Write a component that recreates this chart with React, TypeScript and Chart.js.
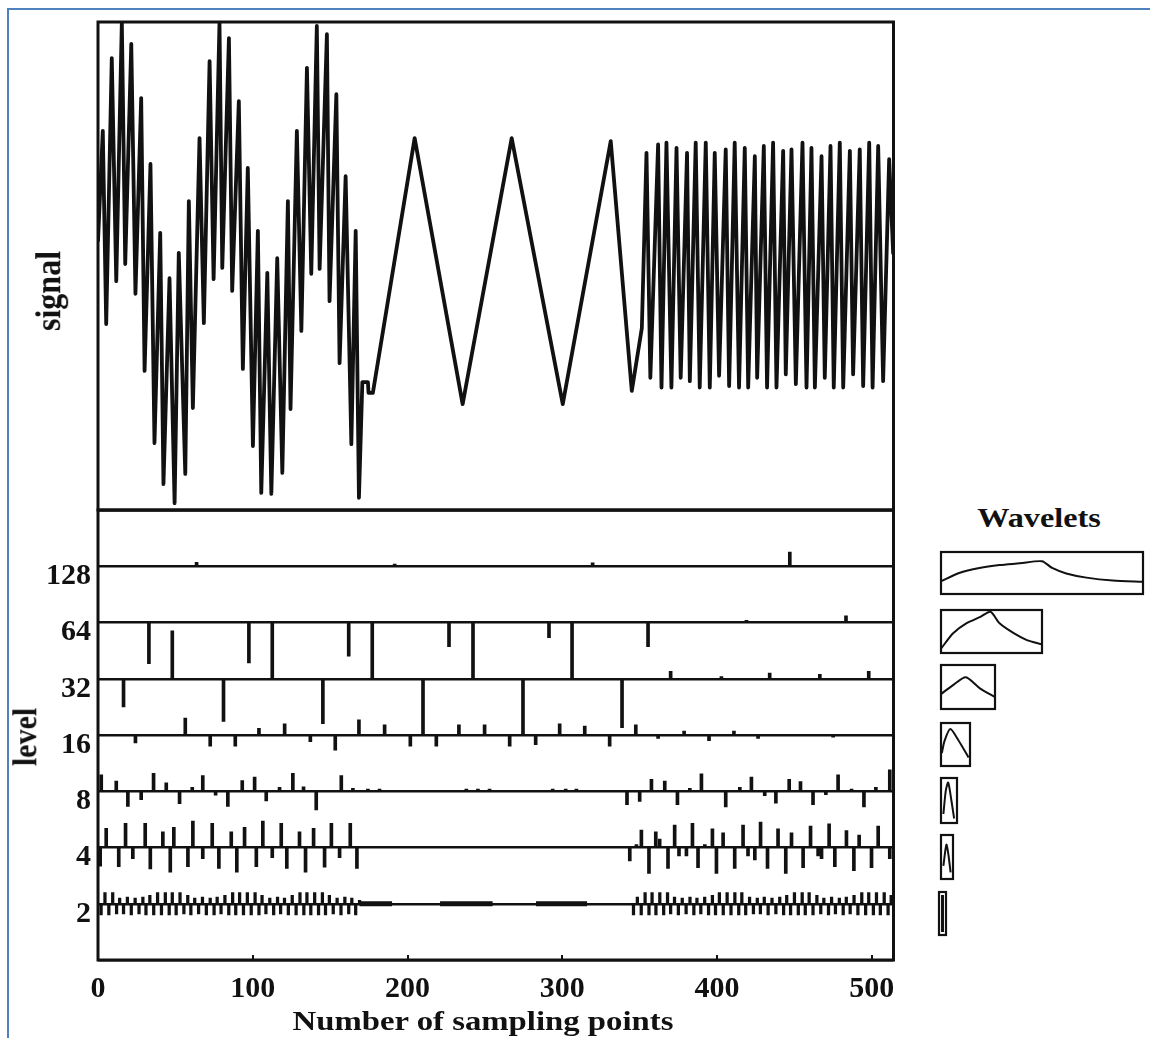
import React, { useEffect, useRef } from 'react';
import { Chart, registerables } from 'chart.js';

Chart.register(...registerables);

const FONT = "'Liberation Serif', 'Times New Roman', 'DejaVu Serif', serif";
const INK = '#111111';

// ---------- signal (sample index, amplitude 0..100) ----------
const signalX = [0, 3.1, 5.3, 8.9, 11.8, 15.4, 17.6, 21.5, 24.2, 27.9, 30.1, 33.9, 36.5, 40.2, 42.3, 46.2, 49.5, 52.2, 56.4, 58.7, 61.3, 65.6, 68.4, 72.1, 74.7, 78.5, 80.3, 84.6, 86.7, 91.0, 93.6, 96.8, 100.1, 103.3, 105.5, 109.4, 112.0, 115.8, 119.1, 122.7, 124.4, 128.5, 131.4, 135.0, 137.8, 141.4, 143.2, 147.9, 149.6, 154.0, 156.1, 160.0, 163.7, 166.5, 168.6,
  170.8, 174.4, 174.8, 177.6, 204.6, 235.6, 267.3, 300.3, 331.3, 344.9, 351.4,
  354.4, 356.9, 361.9, 364.1, 367.3, 370.5, 373.8, 376.5, 380.6, 382.4, 386.2, 388.8, 392.7, 395.3, 398.5, 401.3, 405.6, 407.8, 411.4, 414.2, 417.9, 420.1, 424.4, 425.9, 430.2, 432.3, 436.2, 438.4, 442.7, 444.4, 448.1, 450.9, 455.2, 457.8, 461.0, 463.2, 467.5, 469.6, 473.3, 475.4, 479.3, 481.5, 485.8, 487.9, 492.2, 494.4, 498.3, 500.5, 504.1, 507.3, 511.2, 513.8];
const signalY = [55, 77.7, 38.1, 92.6, 46.9, 100, 50.4, 95.5, 44.3, 84.4, 28.5, 70.9, 13.7, 56.8, 5.3, 47.5, 1.4, 52.7, 7.4, 63.3, 20.9, 76.2, 38.3, 92.0, 47.3, 99.8, 49.6, 96.7, 44.9, 83.8, 28.9, 70.1, 13.1, 57.2, 3.5, 48.6, 3.3, 51.6, 7.6, 63.3, 20.7, 77.7, 36.7, 90.6, 48.4, 99.2, 49.4, 97.5, 42.8, 85.2, 30.1, 68.4, 13.5, 57.2, 2.5,
  26.2, 26.2, 24.0, 24.0, 76.2, 21.7, 76.2, 21.7, 75.6, 24.4, 37.3,
  73.2, 27.1, 74.9, 25.1, 75.3, 25.1, 74.2, 27.1, 73.2, 26.4, 75.3, 25.1, 75.3, 25.1, 73.2, 27.5, 73.9, 25.4, 75.3, 25.1, 74.2, 25.1, 72.5, 27.1, 74.6, 25.1, 75.3, 25.1, 73.6, 27.8, 73.9, 25.8, 75.3, 25.1, 74.2, 25.1, 72.5, 27.1, 74.6, 25.1, 75.3, 25.1, 73.6, 27.8, 73.9, 25.4, 75.3, 25.1, 74.6, 26.4, 71.9, 52.4];

// ---------- level stems: [sample, amplitude in band units] ----------
const level128Stems = [[63.7, 0.07], [191.7, 0.04], [319.6, 0.06], [447, 0.25]];
const level64Stems = [[32.9, -0.73], [97.5, -0.72], [112.6, -1], [162, -0.6], [177.2, -1], [226.8, -0.43], [242.3, -1], [291.4, -0.27], [306.3, -1], [355.4, -0.43], [419, 0.04], [483.3, 0.12]];
const level32Stems = [[16.5, -0.5], [48, 0.85], [81.1, -0.76], [145.3, -0.8], [210, -1], [274.6, -1], [338.6, -0.87], [370, 0.13], [402.8, 0.04], [434, 0.1], [466.4, 0.08], [498, 0.13]];
const level16Stems = [[24.2, -0.14], [56.4, 0.3], [72.5, -0.2], [88.7, -0.2], [104, 0.12], [120.6, 0.2], [137.2, -0.12], [153.3, -0.27], [168.6, 0.27], [185.2, 0.18], [201.8, -0.2], [218.6, -0.2], [233.2, 0.18], [249.8, 0.18], [266, -0.2], [282.8, -0.17], [298.3, 0.2], [314.5, 0.16], [330.6, -0.2], [347.5, 0.18], [361.9, -0.06], [378.7, 0.07], [394.8, -0.1], [410.9, 0.07], [426.5, -0.06], [475, -0.04]];
const level8Stems = [[2.1, 0.29], [11.8, 0.18], [19.3, -0.27], [27.9, -0.15], [35.9, 0.32], [44.1, 0.15], [52.7, -0.22], [60.9, 0.07], [67.7, 0.28], [76, -0.07], [83.9, -0.27], [93.2, 0.19], [101.2, 0.25], [108.7, -0.17], [117.3, 0.07], [125.9, 0.32], [132.8, 0.08], [141, -0.33], [157.2, 0.28], [164.7, 0.05], [174.4, 0.04], [181.9, 0.04], [238, 0.04], [245.5, 0.04], [253, 0.04], [293.8, 0.04], [302.2, 0.04], [309.1, 0.04], [341.8, -0.24], [350, -0.18], [357.6, 0.21], [366.2, 0.18], [374.4, -0.24], [382.4, 0.05], [389.9, 0.31], [405.6, -0.28], [414.7, 0.07], [422.2, 0.25], [430.8, -0.08], [438, -0.21], [446.6, 0.21], [453.9, 0.17], [462, -0.24], [470.3, -0.06], [478.2, 0.29], [486.9, 0.04], [494.9, -0.28], [502.6, 0.07], [511.6, 0.38]];
const level4Stems = [[1.4, -0.33], [5.3, 0.34], [13.4, -0.34], [17.8, 0.43], [22.5, -0.2], [30.5, 0.43], [33.8, -0.38], [41.9, 0.28], [46.7, -0.44], [49.0, 0.36], [58.1, -0.34], [61.3, 0.47], [67.7, -0.2], [73.8, 0.43], [78.1, -0.37], [86.1, 0.28], [89.7, -0.44], [94.7, 0.36], [102.3, -0.34], [106.5, 0.47], [112.6, -0.18], [118.4, 0.43], [122.0, -0.37], [130.2, 0.28], [134.1, -0.44], [139.3, 0.34], [146.4, -0.35], [150.8, 0.43], [156.1, -0.18], [163.0, 0.43], [167.3, -0.37],
  [343.6, -0.24], [347.9, 0.05], [351.1, 0.31], [356.0, -0.46], [360.4, 0.28], [362.9, 0.15], [368.3, -0.37], [372.6, 0.4], [375.4, -0.15], [380.2, -0.15], [384.1, 0.43], [387.7, -0.36], [392.1, 0.05], [397.0, 0.33], [399.6, -0.46], [403.9, 0.26], [411.4, -0.37], [416.8, 0.4], [420.0, -0.15], [424.4, -0.22], [428.1, 0.45], [432.6, -0.37], [439.4, 0.33], [444.4, -0.46], [448.1, 0.26], [455.6, -0.36], [460.4, 0.38], [465.3, -0.15], [467.5, -0.2], [472.4, 0.42], [476.1, -0.34], [483.6, 0.3], [488.4, -0.41], [491.8, 0.22], [499.8, -0.36], [504.1, 0.38], [511.6, -0.2]];
const level2Stems = [[2, -0.2], [4.5, 0.2], [7, -0.2], [9.5, 0.2], [12, -0.18], [14, 0.1], [16.5, -0.18], [19, 0.12], [21.5, -0.2], [24, 0.1], [26.5, -0.18], [29, 0.12], [31, -0.2], [33.5, 0.15], [36, -0.2], [38.5, 0.2], [41, -0.2], [43.5, 0.2], [46, -0.2], [48, 0.2], [50.5, -0.2], [53, 0.2], [55.5, -0.18], [58, 0.15], [60, -0.2], [62.5, 0.1], [65, -0.18], [67.5, 0.12], [70, -0.2], [72.5, 0.1], [75, -0.2], [77, 0.12], [79.5, -0.18], [82, 0.15], [84.5, -0.2], [87, 0.2], [89, -0.2], [91.5, 0.2], [94, -0.2], [96.5, 0.2], [99, -0.2], [101.5, 0.2], [104, -0.2], [106, 0.15], [108.5, -0.18], [111, 0.1], [113.5, -0.2], [116, 0.12], [118, -0.18], [120.5, 0.1], [123, -0.2], [125.5, 0.15], [128, -0.2], [130.5, 0.2], [133, -0.2], [135, 0.2], [137.5, -0.2], [140, 0.2], [142.5, -0.2], [145, 0.2], [147, -0.2], [149.5, 0.15], [152, -0.18], [154.5, 0.1], [157, -0.2], [159.5, 0.12], [162, -0.18], [164, 0.1], [166.5, -0.2], [169, 0.06],
  [346, -0.2], [348.5, 0.12], [351, -0.2], [353.5, 0.2], [356, -0.2], [358, 0.2], [360.5, -0.2], [363, 0.2], [365.5, -0.2], [368, 0.2], [370, -0.18], [372.5, 0.12], [375, -0.2], [377.5, 0.1], [380, -0.18], [382.5, 0.12], [385, -0.2], [387, 0.1], [389.5, -0.18], [392, 0.12], [394.5, -0.2], [397, 0.15], [399, -0.2], [401.5, 0.2], [404, -0.2], [406.5, 0.2], [409, -0.2], [411.5, 0.2], [414, -0.2], [416, 0.2], [418.5, -0.2], [421, 0.12], [423.5, -0.18], [426, 0.1], [428, -0.18], [430.5, 0.12], [433, -0.2], [435.5, 0.1], [438, -0.18], [440.5, 0.12], [443, -0.2], [445, 0.15], [447.5, -0.2], [450, 0.2], [452.5, -0.2], [455, 0.2], [457, -0.2], [459.5, 0.2], [462, -0.2], [464.5, 0.15], [467, -0.18], [469, 0.1], [472, -0.2], [474, 0.12], [476.5, -0.18], [479, 0.1], [481.5, -0.2], [483.5, 0.12], [486, -0.18], [488.5, 0.15], [491, -0.2], [493.5, 0.2], [496, -0.2], [498, 0.2], [501, -0.2], [503, 0.2], [505.5, -0.2], [508, 0.2], [510.5, -0.2], [512.5, 0.15]];
// stretches of near-zero detail that appear as a thickened level-2 line: [from, to]
const level2Flat = [[169, 190], [221, 255], [283, 316]];

const levelTickValues = [0, 1, 2, 3, 4, 5, 6, 7, 8];
const levelTickLabels = ['', '2', '4', '8', '16', '32', '64', '128', ''];
const xTickValues = [0, 100, 200, 300, 400, 500];

// ---------- wavelet shapes: [x 0..1, y 0..1] within each box ----------
const wavelet128 = [[0, 0.3], [0.09, 0.5], [0.19, 0.62], [0.29, 0.69], [0.39, 0.73], [0.5, 0.78], [0.55, 0.62], [0.62, 0.49], [0.72, 0.39], [0.85, 0.32], [1, 0.29]];
const wavelet64 = [[0, 0.1], [0.12, 0.46], [0.25, 0.69], [0.39, 0.84], [0.49, 0.96], [0.58, 0.69], [0.72, 0.46], [0.85, 0.3], [1, 0.2]];
const wavelet32 = [[0, 0.34], [0.23, 0.55], [0.46, 0.72], [0.72, 0.47], [1, 0.27]];
const wavelet16 = [[0.03, 0.3], [0.12, 0.58], [0.32, 0.86], [0.6, 0.6], [0.95, 0.2]];
const wavelet8 = [[0.15, 0.2], [0.3, 0.72], [0.45, 0.9], [0.65, 0.5], [0.82, 0.1]];
const wavelet4 = [[0.2, 0.3], [0.45, 0.78], [0.62, 0.55], [0.8, 0.15]];
const wavelet2 = [[0.5, 0.93], [0.5, 0.07]];

// layout of the wavelet boxes (page px)
const waveletBoxes = [
  { shape: wavelet128, x: 941, y: 552, w: 202, h: 42, lw: 2 },
  { shape: wavelet64, x: 941, y: 610, w: 101, h: 43, lw: 2 },
  { shape: wavelet32, x: 941, y: 665, w: 54, h: 44, lw: 2 },
  { shape: wavelet16, x: 941, y: 723, w: 29, h: 43, lw: 2 },
  { shape: wavelet8, x: 941, y: 778, w: 16, h: 45, lw: 2 },
  { shape: wavelet4, x: 941, y: 835, w: 12, h: 44, lw: 2 },
  { shape: wavelet2, x: 939, y: 892, w: 7, h: 43, lw: 3 },
];

const framePlugin = {
  id: 'frame',
  afterDatasetsDraw(chart: any, _args: any, opts: any) {
    const { ctx, chartArea: a } = chart;
    ctx.save();
    ctx.strokeStyle = opts.color || INK;
    ctx.lineWidth = opts.width || 2.5;
    ctx.strokeRect(a.left, a.top, a.right - a.left, a.bottom - a.top);
    ctx.restore();
  },
};

function useChart(makeConfig: () => any) {
  const ref = useRef<HTMLCanvasElement | null>(null);
  useEffect(() => {
    if (!ref.current) return;
    const chart = new Chart(ref.current, makeConfig());
    return () => chart.destroy();
  }, []);
  return ref;
}

function SignalPanel() {
  const W = 910, H = 520;
  const ref = useChart(() => ({
    type: 'line',
    data: {
      datasets: [{
        data: signalX.map((x, i) => ({ x, y: signalY[i] })),
        borderColor: INK,
        borderWidth: 3.8,
        pointRadius: 0,
        tension: 0,
        borderJoinStyle: 'round',
      }],
    },
    options: {
      animation: false,
      responsive: false,
      events: [],
      layout: { padding: { left: 98, right: W - 893.5, top: 22, bottom: H - 510 } },
      plugins: { legend: { display: false }, tooltip: { enabled: false }, frame: { width: 3 } },
      scales: {
        x: { type: 'linear', min: 0, max: 514, display: false },
        y: { type: 'linear', min: 0, max: 100, display: false },
      },
    },
    plugins: [framePlugin],
  }));
  return <canvas ref={ref} width={W} height={H} style={{ position: 'absolute', left: 0, top: 0, width: W, height: H }} />;
}

function LevelPanel() {
  const W = 910, H = 538, TOP = 500;
  const levels = [
    { k: 7, stems: level128Stems, t: 3 },
    { k: 6, stems: level64Stems, t: 3 },
    { k: 5, stems: level32Stems, t: 3 },
    { k: 4, stems: level16Stems, t: 3 },
    { k: 3, stems: level8Stems, t: 3 },
    { k: 2, stems: level4Stems, t: 3 },
    { k: 1, stems: level2Stems, t: 2.6 },
  ];
  const ref = useChart(() => {
    const datasets: any[] = levels.map((lv) => ({
      type: 'bar',
      data: lv.stems.map(([s, a]) => ({ x: s, y: [lv.k, lv.k + a] })),
      backgroundColor: INK,
      borderWidth: 0,
      borderSkipped: false,
      barThickness: lv.t,
      grouped: false,
    }));
    const flat: any[] = [];
    level2Flat.forEach(([a, b]) => {
      flat.push({ x: a, y: 1 }, { x: b, y: 1 }, { x: b + 0.5, y: null });
    });
    datasets.push({
      type: 'line',
      data: flat,
      borderColor: INK,
      borderWidth: 5,
      pointRadius: 0,
      spanGaps: false,
    });
    const tickFont = { family: FONT, size: 30, weight: 'bold' };
    return {
      type: 'bar',
      data: { datasets },
      options: {
        animation: false,
        responsive: false,
        events: [],
        layout: { padding: { left: 0, right: W - 893.5, top: 510 - TOP, bottom: 0 } },
        plugins: { legend: { display: false }, tooltip: { enabled: false }, frame: { width: 3 } },
        scales: {
          x: {
            type: 'linear', min: 0, max: 514, offset: false,
            afterBuildTicks: (s: any) => { s.ticks = xTickValues.map((v) => ({ value: v })); },
            afterFit: (s: any) => { s.height = H - (960 - TOP); s.paddingLeft = 0; s.paddingRight = 0; },
            ticks: { font: tickFont, color: INK, padding: 16, maxRotation: 0, autoSkip: false },
            grid: {
              display: true, offset: false, drawOnChartArea: false, drawTicks: true, tickLength: -5,
              color: (c: any) => (c.tick && c.tick.value > 0 ? INK : 'rgba(0,0,0,0)'), lineWidth: 2,
            },
            border: { display: false },
          },
          y: {
            type: 'linear', min: 0, max: 8,
            afterBuildTicks: (s: any) => { s.ticks = levelTickValues.map((v) => ({ value: v })); },
            afterFit: (s: any) => { s.width = 98; s.paddingTop = 0; s.paddingBottom = 0; },
            ticks: {
              font: tickFont, color: INK, padding: 7, labelOffset: 10, autoSkip: false,
              callback: (v: any) => levelTickLabels[levelTickValues.indexOf(v)] ?? '',
            },
            grid: { color: INK, lineWidth: 2.5, drawTicks: false, offset: false },
            border: { display: false },
          },
        },
      },
      plugins: [framePlugin],
    };
  });
  return <canvas ref={ref} width={W} height={H} style={{ position: 'absolute', left: 0, top: TOP, width: W, height: H }} />;
}

function WaveletBox({ box }: { box: any }) {
  const P = 3;
  const W = box.w + 2 * P, H = box.h + 2 * P;
  const ref = useChart(() => ({
    type: 'line',
    data: {
      datasets: [{
        data: box.shape.map(([x, y]: number[]) => ({ x, y })),
        borderColor: INK,
        borderWidth: box.lw,
        pointRadius: 0,
        tension: 0.25,
      }],
    },
    options: {
      animation: false,
      responsive: false,
      events: [],
      layout: { padding: P },
      plugins: { legend: { display: false }, tooltip: { enabled: false }, frame: { width: 2.2 } },
      scales: {
        x: { type: 'linear', min: 0, max: 1, display: false },
        y: { type: 'linear', min: 0, max: 1, display: false },
      },
    },
    plugins: [framePlugin],
  }));
  return <canvas ref={ref} width={W} height={H} style={{ position: 'absolute', left: box.x - P, top: box.y - P, width: W, height: H }} />;
}

function Label({ text, cx, cy, size, rotate, stretch }: { text: string; cx: number; cy: number; size: number; rotate?: boolean; stretch: number }) {
  const transform = rotate
    ? `translate(-50%, -50%) rotate(-90deg) scaleY(${stretch})`
    : `translate(-50%, -50%) scaleX(${stretch})`;
  return (
    <div style={{
      position: 'absolute', left: cx, top: cy, transform,
      fontFamily: FONT, fontWeight: 'bold', fontSize: size, lineHeight: 1,
      whiteSpace: 'nowrap', color: INK,
    }}>{text}</div>
  );
}

export default function App() {
  return (
    <div style={{ position: 'absolute', left: 0, top: 0, width: 1150, height: 1038, background: '#ffffff', overflow: 'hidden' }}>
      <div style={{ position: 'absolute', left: 7, top: 8, width: 1150, height: 1040, borderTop: '2px solid #4f81bd', borderLeft: '2px solid #4f81bd' }} />
      <SignalPanel />
      <LevelPanel />
      {waveletBoxes.map((b, i) => <WaveletBox key={i} box={b} />)}
      <Label text="signal" cx={48} cy={291} size={32} rotate stretch={1.1} />
      <Label text="level" cx={25} cy={737} size={30} rotate stretch={1.1} />
      <Label text="Number of sampling points" cx={483} cy={1021} size={28} stretch={1.17} />
      <Label text="Wavelets" cx={1039} cy={518} size={28} stretch={1.15} />
    </div>
  );
}
